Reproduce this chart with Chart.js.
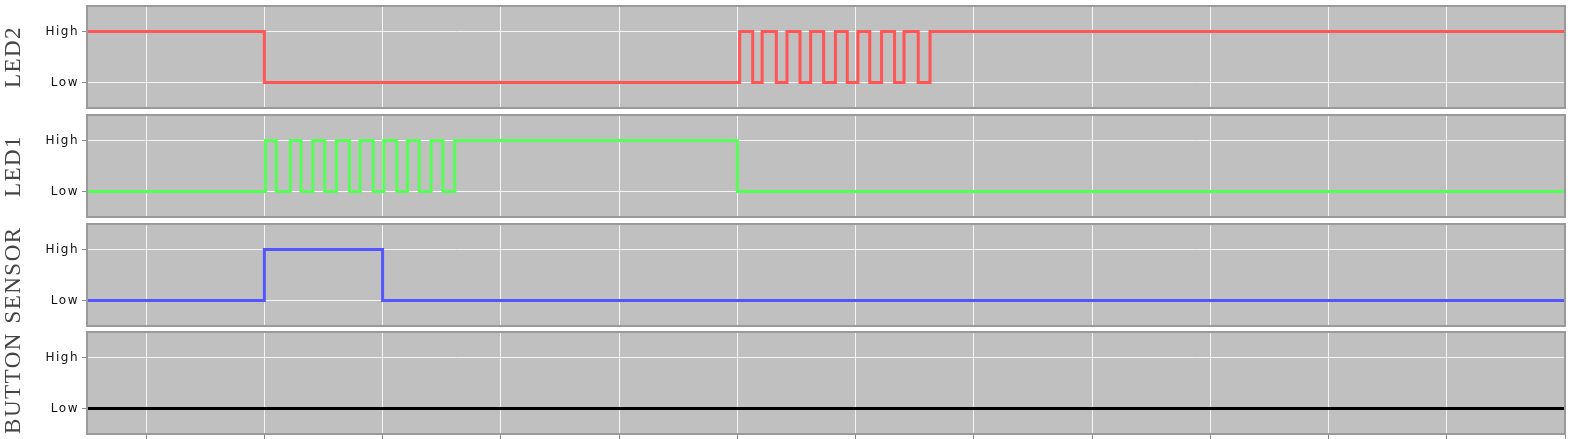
<!DOCTYPE html>
<html>
<head>
<meta charset="utf-8">
<script src="https://cdn.jsdelivr.net/npm/chart.js@4.4.1/dist/chart.umd.min.js"></script>
<style>
    body { margin: 0; background: #ffffff; overflow: hidden; width: 1573px; height: 439px; position: relative; }
    canvas { position: absolute; left: 0; }
</style>
</head>
<body>
<canvas id="grafico-led2" width="1573" height="108" style="top:3px"></canvas>
<canvas id="grafico-led1" width="1573" height="108" style="top:112px"></canvas>
<canvas id="grafico-sensor" width="1573" height="108" style="top:221px"></canvas>
<canvas id="grafico-button" width="1573" height="111" style="top:329px"></canvas>
<script>

// time of each transition (seconds) and the state it switches to
const led2Times = [-0.5, 1.0, 5.02, 5.13, 5.21, 5.33, 5.42, 5.53, 5.62, 5.73, 5.83, 5.93, 6.02, 6.12, 6.22, 6.33, 6.41, 6.53, 6.63, 12];
const led2States = [1, 0, 1, 0, 1, 0, 1, 0, 1, 0, 1, 0, 1, 0, 1, 0, 1, 0, 1, 1];

const led1Times = [-0.5, 1.01, 1.10, 1.22, 1.31, 1.41, 1.51, 1.61, 1.72, 1.81, 1.92, 2.01, 2.12, 2.21, 2.31, 2.41, 2.51, 2.61, 5.0, 12];
const led1States = [0, 1, 0, 1, 0, 1, 0, 1, 0, 1, 0, 1, 0, 1, 0, 1, 0, 1, 0, 0];

const sensorTimes = [-0.5, 1.0, 2.0, 12];
const sensorStates = [0, 1, 0, 0];

const buttonTimes = [-0.5, 12];
const buttonStates = [0, 0];

const timeTicks = [0, 1, 2, 3, 4, 5, 6, 7, 8, 9, 10, 11, 12];
const stateTicks = [0, 1];
const stateLabels = ['Low', 'High'];

const fundoPainel = {
    id: 'fundoPainel',
    beforeDraw(chart) {
        const ctx = chart.ctx;
        const a = chart.chartArea;
        ctx.letterSpacing = '1.5px';
        ctx.save();
        ctx.fillStyle = '#c0c0c0';
        ctx.fillRect(a.left, a.top, a.right - a.left, a.bottom - a.top);
        ctx.restore();
    },
    afterDraw(chart) {
        const ctx = chart.ctx;
        const a = chart.chartArea;
        ctx.save();
        ctx.strokeStyle = '#9a9a9a';
        ctx.lineWidth = 2;
        ctx.strokeRect(a.left, a.top, a.right - a.left, a.bottom - a.top);
        ctx.restore();
    }
};

function montarDados(tempos, estados) {
    return tempos.map(function (t, i) {
        return { x: t, y: estados[i] };
    });
}

function criarGrafico(id, titulo, tempos, estados, cor, ultimo) {
    return new Chart(document.getElementById(id), {
        type: 'line',
        data: {
            datasets: [{
                label: titulo,
                data: montarDados(tempos, estados),
                borderColor: cor,
                borderWidth: 3,
                stepped: true,
                pointRadius: 0,
                fill: false
            }]
        },
        options: {
            responsive: false,
            animation: false,
            layout: {
                padding: { top: 3, right: 8, bottom: ultimo ? 0 : 3, left: 0 }
            },
            plugins: {
                legend: { display: false },
                tooltip: { enabled: false }
            },
            scales: {
                x: {
                    type: 'linear',
                    min: -0.5,
                    max: 12,
                    afterBuildTicks: function (scale) {
                        scale.ticks = timeTicks.map(function (v) { return { value: v }; });
                    },
                    afterFit: function (scale) {
                        scale.height = ultimo ? 6 : 0;
                        scale.paddingLeft = 0;
                        scale.paddingRight = 0;
                    },
                    ticks: { display: false },
                    border: { display: false },
                    grid: {
                        color: '#f4f4f4',
                        lineWidth: 1,
                        borderDash: [2, 3],
                        drawTicks: ultimo,
                        tickLength: 5,
                        tickColor: '#8a8a8a',
                        tickBorderDash: []
                    }
                },
                y: {
                    min: -0.5,
                    max: 1.5,
                    afterBuildTicks: function (scale) {
                        scale.ticks = stateTicks.map(function (v) { return { value: v }; });
                    },
                    afterFit: function (scale) {
                        scale.width = 87;
                        scale.paddingTop = 0;
                        scale.paddingBottom = 0;
                    },
                    ticks: {
                        padding: 3,
                        color: '#111111',
                        font: { family: 'DejaVu Sans', size: 12 },
                        callback: function (v) {
                            return stateLabels[stateTicks.indexOf(v)];
                        }
                    },
                    border: { display: false },
                    grid: {
                        color: '#f4f4f4',
                        lineWidth: 1,
                        borderDash: [4, 3],
                        drawTicks: true,
                        tickLength: 5,
                        tickColor: '#8a8a8a',
                        tickBorderDash: []
                    },
                    title: {
                        display: true,
                        text: titulo,
                        color: '#444444',
                        padding: 0,
                        font: { family: "'Liberation Serif', serif", size: 23 }
                    }
                }
            }
        },
        plugins: [fundoPainel]
    });
}

criarGrafico('grafico-led2', 'LED2', led2Times, led2States, '#ff5555', false);
criarGrafico('grafico-led1', 'LED1', led1Times, led1States, '#55ff55', false);
criarGrafico('grafico-sensor', 'SENSOR', sensorTimes, sensorStates, '#5555ff', false);
criarGrafico('grafico-button', 'BUTTON', buttonTimes, buttonStates, '#000000', true);
</script>
</body>
</html>
